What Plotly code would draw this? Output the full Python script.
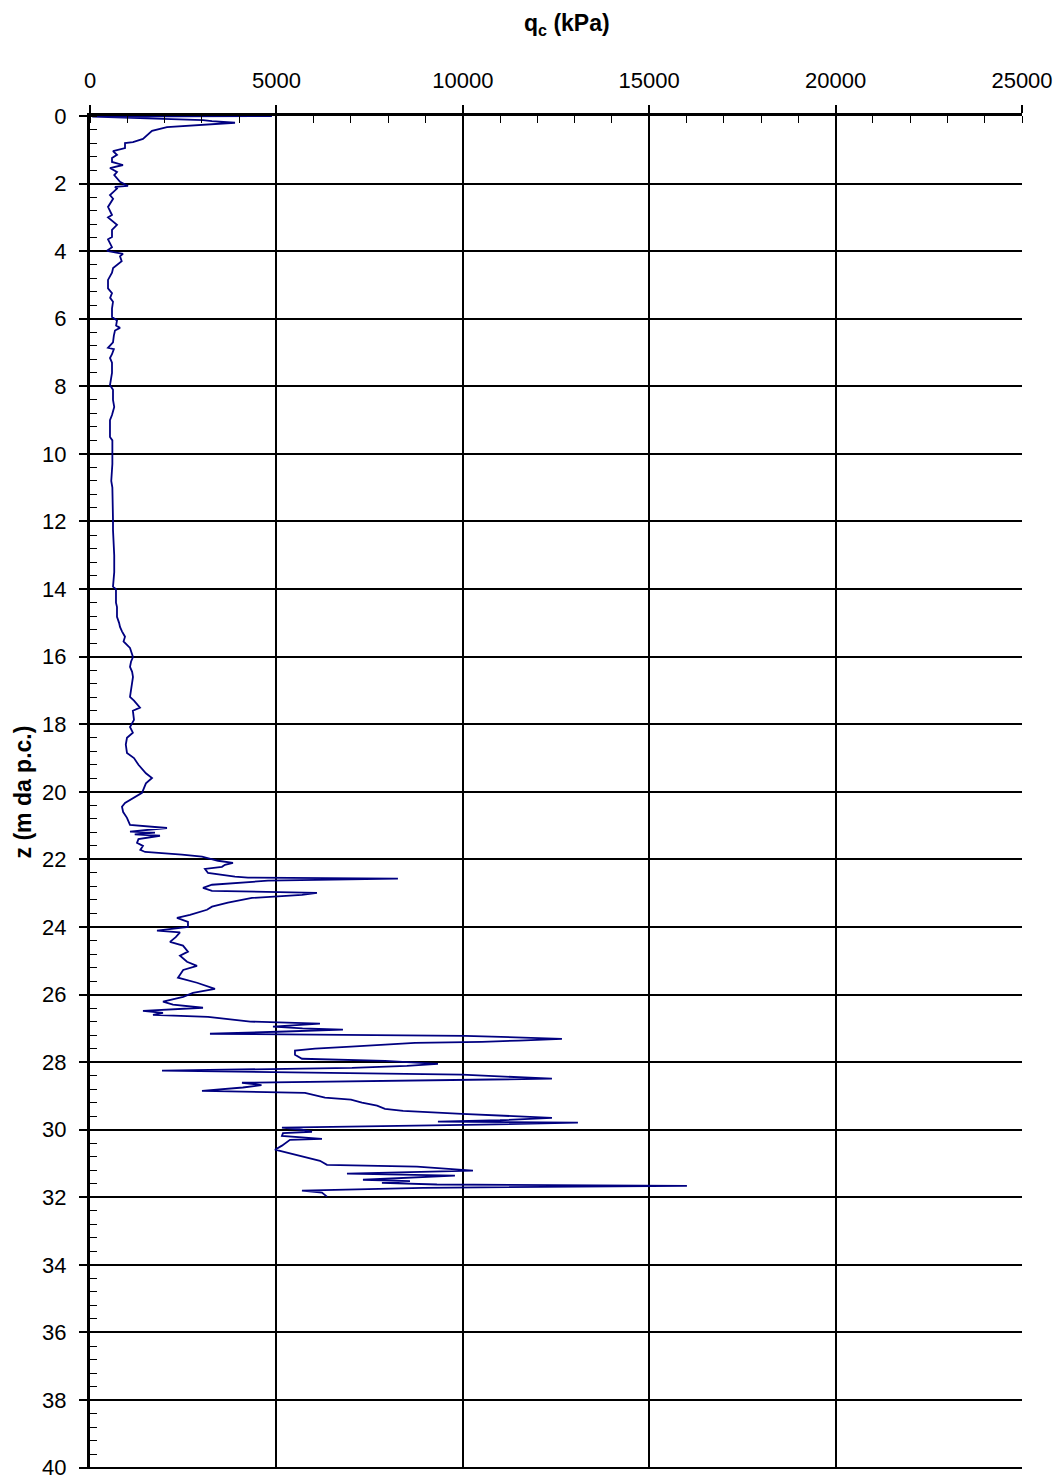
import plotly.graph_objects as go

# CPT profile: depth below ground level (m) and cone resistance qc (kPa)
depth_m = [
    0.0, 0.02, 0.12, 0.15, 0.20, 0.24, 0.33, 0.44, 0.50, 0.68, 0.77, 0.80, 0.95,
    1.04, 1.15, 1.24, 1.36, 1.45, 1.54, 1.66, 1.75, 1.95, 2.07, 2.10, 2.15, 2.34,
    2.45, 2.69, 2.93, 3.00, 3.22, 3.37, 3.58, 3.65, 3.88, 3.99, 4.08, 4.15, 4.30,
    4.41, 4.50, 4.64, 4.85, 5.10, 5.24, 5.38,
    5.50, 5.70, 5.95, 6.05, 6.20, 6.27, 6.35, 6.50, 6.70, 6.86, 6.90, 7.05, 7.16,
    7.30, 7.60, 7.96, 8.10, 8.40, 8.61, 8.85, 9.00, 9.50, 9.60, 10.30, 10.80,
    11.00, 11.50, 11.95, 12.25,
    12.50, 13.00, 13.50, 13.93, 14.00, 14.40, 14.53, 14.82, 15.00, 15.12, 15.25,
    15.41, 15.55, 15.74, 16.01, 16.15, 16.30, 16.45, 16.60, 16.90, 17.19, 17.30,
    17.51, 17.60, 17.87, 18.08, 18.25, 18.40, 18.60, 18.85, 19.00, 19.20, 19.35,
    19.45, 19.59, 19.75, 20.03, 20.18, 20.33, 20.44, 20.60, 20.77, 20.90, 20.98,
    21.07, 21.18, 21.21, 21.26, 21.30, 21.40, 21.51, 21.60, 21.72, 21.78, 21.86,
    21.92, 22.04, 22.10, 22.16, 22.22, 22.28, 22.40, 22.51, 22.54, 22.57, 22.63,
    22.75, 22.84, 22.93, 22.99, 23.05, 23.11, 23.14, 23.28, 23.40, 23.49, 23.64,
    23.73, 23.85, 24.00, 24.11, 24.16, 24.30, 24.44, 24.55, 24.73, 24.85, 25.03,
    25.15, 25.27, 25.50, 25.65, 25.83, 25.95, 26.07, 26.21, 26.30, 26.39, 26.48,
    26.54, 26.60, 26.66, 26.72, 26.80, 26.86, 26.95, 27.00, 27.04, 27.10, 27.16,
    27.22, 27.31, 27.36, 27.40, 27.43, 27.49, 27.54, 27.60, 27.66, 27.78, 27.90,
    27.96, 28.05, 28.11, 28.17, 28.25, 28.37, 28.49, 28.55, 28.61, 28.68, 28.75,
    28.85, 28.91, 29.05, 29.11, 29.20, 29.29, 29.38, 29.44, 29.53, 29.65, 29.72,
    29.76, 29.79, 29.85, 29.94, 30.00, 30.06, 30.10, 30.18, 30.27, 30.30, 30.47,
    30.59, 30.68, 30.80, 30.92, 31.04, 31.09, 31.21, 31.30, 31.36, 31.48, 31.52,
    31.57, 31.62, 31.66, 31.72, 31.80, 31.86, 31.98,
]

qc_kpa = [
    4880, 60, 3030, 3270, 3890, 3300, 2065, 1663, 1600, 1421, 1153, 939, 939,
    617, 724, 590, 590, 885, 536, 724, 650, 805, 1019, 670, 724, 536,
    620, 483, 590, 483, 724, 590, 590, 483, 590, 456, 885, 805, 850,
    724, 620, 590, 483, 483, 590, 540,
    617, 590, 590, 724, 700, 805, 670, 640, 617, 483, 640, 590, 536,
    590, 590, 536, 617, 617, 650, 590, 536, 536, 600, 600, 570,
    600, 617, 617, 617,
    630, 650, 650, 617, 697, 697, 724, 724, 780, 805, 858,
    939, 900, 1073, 1153, 1100, 1073, 1130, 1153, 1120, 1073, 1180,
    1341, 1150, 1180, 1073, 1150, 992, 960, 992, 1180, 1300, 1421,
    1500, 1663, 1500, 1395, 1153, 939, 858, 890, 992, 1040, 1073,
    2065, 1073, 1743, 1200, 1877, 1300, 1261, 1420, 1350, 1480, 2467,
    3004, 3433, 3835, 3620, 3540, 3084, 3165, 3889, 4238, 8260, 4774,
    3272, 3031, 3272, 6088, 5686, 4908, 4345, 3700, 3272, 3138, 2682,
    2333, 2628, 2628, 1797, 2414, 2300, 2146, 2494, 2628, 2414, 2602,
    2870, 2500, 2360, 2870, 3352, 2762, 2500, 1958, 2226, 3031, 1421,
    1958, 1690, 3165, 3621, 4300, 6169, 4908, 5700, 6785, 5042, 3218,
    10058, 12659, 11500, 10513, 8717, 7900, 7000, 6035, 5498, 5498, 5686,
    7912, 9333, 8500, 7027, 1931, 9977, 12391, 7912, 4077, 4600, 4100,
    3004, 5766, 6303, 7000, 7295, 7700, 7912, 8400, 9977, 12391, 11000,
    9333, 13088, 10500, 5149, 5686, 5954, 5176, 5149, 6222, 5364, 5149,
    4962, 5284, 5686, 6169, 6356, 8770, 10272, 6893, 9789, 7322, 8582,
    7831, 9307, 16012, 8931, 5686, 6222, 6356,
]

x_title = "q<sub>c</sub> (kPa)"
y_title = "z (m da p.c.)"

FONT = "Arial, Liberation Sans, sans-serif"

fig = go.Figure()
fig.add_trace(go.Scatter(
    x=qc_kpa, y=depth_m, mode="lines",
    line=dict(color="#000080", width=1.8),
    showlegend=False, hoverinfo="x+y",
))

fig.update_xaxes(
    side="top", range=[0, 25000], dtick=5000, tick0=0, tickformat="d",
    automargin=False,
    showline=True, linecolor="black", linewidth=3,
    ticks="outside", ticklen=8, tickwidth=1.5, tickcolor="black",
    ticklabelstandoff=8,
    showgrid=True, gridcolor="black", gridwidth=1.8,
    zeroline=False,
    minor=dict(ticks="inside", dtick=1000, ticklen=7, tickwidth=1.2,
               tickcolor="black", showgrid=False),
    tickfont=dict(family=FONT, size=22, color="black"),
)
fig.update_yaxes(
    autorange=False, range=[40.04, 0], dtick=2, tick0=0,
    automargin=False,
    showline=True, linecolor="black", linewidth=3,
    ticks="outside", ticklen=8, tickwidth=1.5, tickcolor="black",
    ticklabelstandoff=8,
    showgrid=True, gridcolor="black", gridwidth=1.8,
    zeroline=False,
    minor=dict(ticks="inside", dtick=0.4, ticklen=7, tickwidth=1.2,
               tickcolor="black", showgrid=False),
    tickfont=dict(family=FONT, size=22, color="black"),
)

fig.add_annotation(
    text="<b>" + x_title + "</b>", xref="paper", yref="paper",
    x=0.512, xanchor="center", y=1.0, yanchor="middle", yshift=92,
    showarrow=False,
    font=dict(family=FONT, size=23, color="black"),
)
fig.add_annotation(
    text="<b>" + y_title + "</b>", xref="paper", yref="paper",
    x=0.0, xanchor="center", xshift=-68, y=0.5, yanchor="middle",
    textangle=-90, showarrow=False,
    font=dict(family=FONT, size=23, color="black"),
)

fig.update_layout(
    width=1061, height=1481, autosize=False,
    margin=dict(l=90, r=39, t=116, b=12),
    paper_bgcolor="white", plot_bgcolor="white",
    font=dict(family=FONT, color="black"),
)

fig.write_html("out.html")
